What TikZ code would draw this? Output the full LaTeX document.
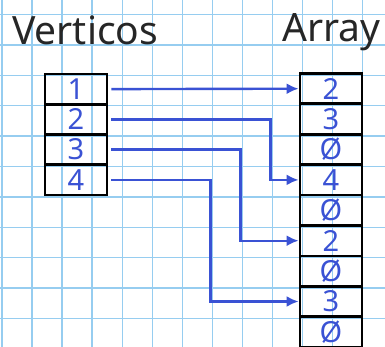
\documentclass[tikz,border=0pt]{standalone}
\usepackage{fontspec}
\setmainfont{Noto Sans}
\usetikzlibrary{arrows.meta}
\definecolor{gridblue}{RGB}{150,205,240}
\definecolor{ink}{RGB}{58,82,212}
\begin{document}
\begin{tikzpicture}[x=1pt,y=-1pt,
  cell/.style={draw=black, line width=2.8pt, minimum width=62pt, inner sep=0pt,
               text=ink, font=\fontsize{29}{29}\selectfont},
  vcell/.style={cell, minimum height=30.25pt},
  acell/.style={cell, minimum height=30.4pt},
  title/.style={font=\fontsize{39}{39}\selectfont, text=black!85, inner sep=0pt, anchor=base west},
  link/.style={draw=ink, line width=2.4pt, shorten <=3pt,
               -{Latex[length=12pt,width=11pt]}}]
\useasboundingbox (0,0) rectangle (385,347);
\clip (0,0) rectangle (385,347);
\fill[white] (0,0) rectangle (385,347);
% squared paper
\foreach \i in {0,...,12} \draw[gridblue, line width=1.4pt] (2+30.05*\i,0) -- ++(0,347);
\foreach \j in {0,...,11} \draw[gridblue, line width=1.4pt] (0,14.5+30.4*\j) -- ++(385,0);
% headings
\node[title] (hv) at (12,45) {Verticos};
\node[title] (ha) at (282,42) {Array};
% vertex list
\foreach \k/\t in {1/1,2/2,3/3,4/4}
  \node[vcell] (v\k) at (76,{74+30.25*(\k-0.5)}) {\t};
% array of adjacencies
\foreach \k/\t in {1/2,2/3,3/Ø,4/4,5/Ø,6/2,7/Ø,8/3,9/Ø}
  \node[acell] (a\k) at (331,{73.5+30.4*(\k-0.5)}) {\t};
% pointers from each vertex into the array
\draw[link] (v1.east) -- (a1.west);
\draw[link] (v2.east) -| ([xshift=-28pt]a4.west) -- (a4.west);
\draw[link] (v3.east) -| ([xshift=-58pt]a6.west) -- (a6.west);
\draw[link] (v4.east) -| ([xshift=-88pt]a8.west) -- (a8.west);
\end{tikzpicture}
\end{document}
